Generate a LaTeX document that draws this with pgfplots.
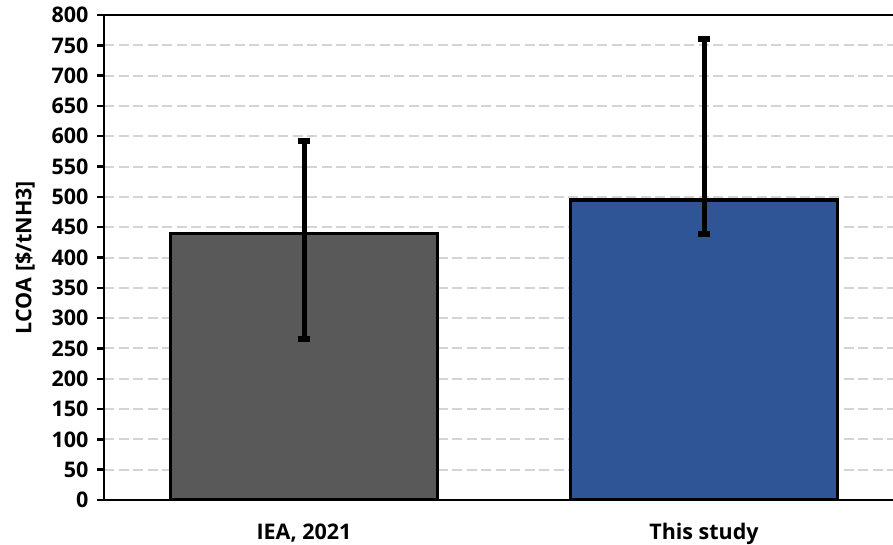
\documentclass[border=0pt]{standalone}
\usepackage{pgfplots}
\pgfplotsset{compat=1.18}
\usepackage{fontspec}
\setmainfont{Open Sans}

\definecolor{iegray}{HTML}{595959}
\definecolor{studyblue}{HTML}{2F5597}
\definecolor{gridgray}{HTML}{D4D4D4}

\begin{document}
\begin{tikzpicture}[font=\fontsize{21.5}{25}\selectfont\bfseries]
\begin{axis}[
  scale only axis,
  width=800pt, height=485pt,
  xmin=-0.5, xmax=1.5,
  ymin=0, ymax=800,
  ytick distance=50,
  xtick={0,1},
  xticklabels={{IEA, 2021},{This study}},
  ytick pos=left,
  xtick pos=bottom,
  tick align=outside,
  major tick length=7pt,
  major x tick style={draw=none},
  every tick/.style={black, line width=2.4pt},
  axis line style={black, line width=2.8pt},
  ymajorgrids,
  major grid style={gridgray, line width=2pt, dash pattern=on 10pt off 4.5pt},
  yticklabel style={xshift=-5pt},
  xticklabel style={yshift=-13pt},
  ylabel={LCOA [\$/tNH3]},
  ylabel style={yshift=10pt},
  /pgf/number format/assume math mode=true,
  ybar,
  bar width=0.6675,
  bar shift=0pt,
]
\coordinate (O) at (rel axis cs:0,0);

% IEA, 2021: 440 with range 265--592
\addplot[fill=iegray, draw=black, line width=3.4pt,
  error bars/.cd, y dir=both, y explicit,
  error bar style={black, line width=5pt},
  error mark options={black, line width=6pt, mark size=6pt, rotate=90}]
  coordinates {(0,440) +- (0,152) -= (0,175)};

% This study: 495 with range 439--760
\addplot[fill=studyblue, draw=black, line width=3.4pt,
  error bars/.cd, y dir=both, y explicit,
  error bar style={black, line width=5pt},
  error mark options={black, line width=6pt, mark size=6pt, rotate=90}]
  coordinates {(1,495) += (0,265) -= (0,56)};
\end{axis}
\pgfresetboundingbox
\path[use as bounding box] ([shift={(-104pt,-44pt)}]O) rectangle ++(893pt,544pt);
\end{tikzpicture}
\end{document}
